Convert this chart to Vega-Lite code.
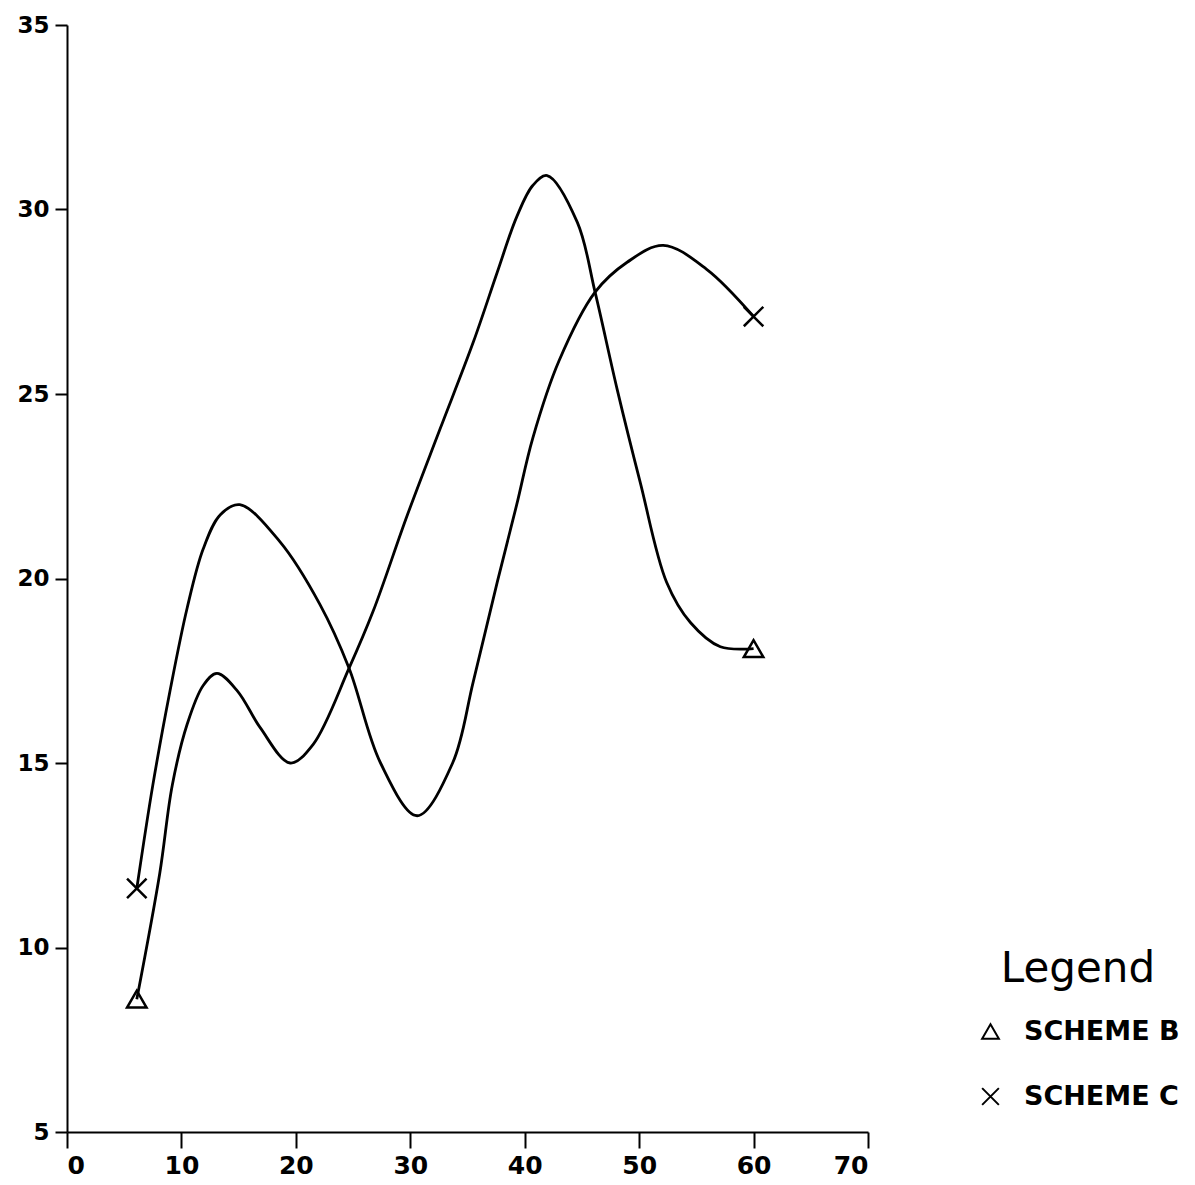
{
  "$schema": "https://vega.github.io/schema/vega-lite/v6.json",
  "width": 801,
  "height": 1107,
  "autosize": {"type": "none"},
  "padding": {"left": 67, "top": 25, "right": 327, "bottom": 53},
  "background": "white",
  "config": {
    "view": {"stroke": null},
    "axis": {
      "domainColor": "black", "domainWidth": 2,
      "tickColor": "black", "tickWidth": 2,
      "labelColor": "black", "labelFont": "DejaVu Sans", "labelFontWeight": "bold",
      "labelFontSize": 22, "grid": false, "title": null
    }
  },
  "datasets": {
    "curves": [
      {"scheme": "SCHEME B", "x": 6.1, "y": 8.6},
      {"scheme": "SCHEME B", "x": 8.1, "y": 12.0},
      {"scheme": "SCHEME B", "x": 9.2, "y": 14.4},
      {"scheme": "SCHEME B", "x": 10.5, "y": 16.05},
      {"scheme": "SCHEME B", "x": 11.9, "y": 17.1},
      {"scheme": "SCHEME B", "x": 13.1, "y": 17.43},
      {"scheme": "SCHEME B", "x": 14.9, "y": 16.95},
      {"scheme": "SCHEME B", "x": 16.9, "y": 15.95},
      {"scheme": "SCHEME B", "x": 19.5, "y": 15.0},
      {"scheme": "SCHEME B", "x": 21.5, "y": 15.5},
      {"scheme": "SCHEME B", "x": 24.65, "y": 17.57},
      {"scheme": "SCHEME B", "x": 26.75, "y": 19.11},
      {"scheme": "SCHEME B", "x": 29.72, "y": 21.7},
      {"scheme": "SCHEME B", "x": 32.6, "y": 24.05},
      {"scheme": "SCHEME B", "x": 35.5, "y": 26.4},
      {"scheme": "SCHEME B", "x": 37.6, "y": 28.3},
      {"scheme": "SCHEME B", "x": 39.3, "y": 29.8},
      {"scheme": "SCHEME B", "x": 40.7, "y": 30.65},
      {"scheme": "SCHEME B", "x": 41.96, "y": 30.92},
      {"scheme": "SCHEME B", "x": 44.6, "y": 29.65},
      {"scheme": "SCHEME B", "x": 46.15, "y": 27.76},
      {"scheme": "SCHEME B", "x": 48.1, "y": 25.1},
      {"scheme": "SCHEME B", "x": 50.1, "y": 22.6},
      {"scheme": "SCHEME B", "x": 52.4, "y": 19.9},
      {"scheme": "SCHEME B", "x": 54.5, "y": 18.8},
      {"scheme": "SCHEME B", "x": 57.1, "y": 18.15},
      {"scheme": "SCHEME B", "x": 60.0, "y": 18.1},
      {"scheme": "SCHEME C", "x": 6.1, "y": 11.6},
      {"scheme": "SCHEME C", "x": 7.5, "y": 14.4},
      {"scheme": "SCHEME C", "x": 9.0, "y": 16.95},
      {"scheme": "SCHEME C", "x": 10.5, "y": 19.2},
      {"scheme": "SCHEME C", "x": 11.9, "y": 20.8},
      {"scheme": "SCHEME C", "x": 13.4, "y": 21.73},
      {"scheme": "SCHEME C", "x": 15.1, "y": 22.0},
      {"scheme": "SCHEME C", "x": 18.6, "y": 21.0},
      {"scheme": "SCHEME C", "x": 22.1, "y": 19.3},
      {"scheme": "SCHEME C", "x": 24.65, "y": 17.57},
      {"scheme": "SCHEME C", "x": 27.4, "y": 15.0},
      {"scheme": "SCHEME C", "x": 30.6, "y": 13.57},
      {"scheme": "SCHEME C", "x": 33.7, "y": 15.0},
      {"scheme": "SCHEME C", "x": 35.5, "y": 17.2},
      {"scheme": "SCHEME C", "x": 37.6, "y": 19.9},
      {"scheme": "SCHEME C", "x": 39.3, "y": 22.0},
      {"scheme": "SCHEME C", "x": 40.7, "y": 23.8},
      {"scheme": "SCHEME C", "x": 43.0, "y": 25.9},
      {"scheme": "SCHEME C", "x": 46.15, "y": 27.76},
      {"scheme": "SCHEME C", "x": 48.95, "y": 28.57},
      {"scheme": "SCHEME C", "x": 52.1, "y": 29.03},
      {"scheme": "SCHEME C", "x": 55.9, "y": 28.38},
      {"scheme": "SCHEME C", "x": 60.0, "y": 27.1}
    ],
    "ends": [
      {"scheme": "SCHEME B", "x": 6.1, "y": 8.6},
      {"scheme": "SCHEME B", "x": 60.0, "y": 18.1},
      {"scheme": "SCHEME C", "x": 6.1, "y": 11.6},
      {"scheme": "SCHEME C", "x": 60.0, "y": 27.1}
    ]
  },
  "layer": [
    {
      "data": {"name": "curves"},
      "mark": {"type": "line", "interpolate": "catmull-rom", "color": "black", "strokeWidth": 2.8},
      "encoding": {
        "x": {"field": "x", "type": "quantitative",
              "scale": {"domain": [0, 70], "nice": false, "zero": false},
              "axis": {"values": [0, 10, 20, 30, 40, 50, 60, 70], "tickSize": 16, "labelPadding": 5, "labelFontSize": 25}},
        "y": {"field": "y", "type": "quantitative",
              "scale": {"domain": [5, 35], "nice": false, "zero": false},
              "axis": {"values": [5, 10, 15, 20, 25, 30, 35], "tickSize": 12, "labelPadding": 6, "labelFontSize": 23}},
        "detail": {"field": "scheme", "type": "nominal"}
      }
    },
    {
      "data": {"name": "ends"},
      "mark": {"type": "point", "filled": false, "color": "black", "strokeWidth": 2.5, "size": 380, "opacity": 1},
      "encoding": {
        "x": {"field": "x", "type": "quantitative"},
        "y": {"field": "y", "type": "quantitative"},
        "shape": {
          "field": "scheme", "type": "nominal",
          "scale": {"domain": ["SCHEME B", "SCHEME C"], "range": ["triangle-up", "M-1,-1L1,1M1,-1L-1,1"]},
          "legend": {
            "title": "Legend", "orient": "none", "legendX": 910, "legendY": 924,
            "titleFont": "DejaVu Sans", "titleFontSize": 42, "titleFontWeight": "normal", "titleColor": "black",
            "titleAnchor": "middle", "titlePadding": 27,
            "labelFont": "DejaVu Sans", "labelFontSize": 27, "labelFontWeight": "bold", "labelColor": "black",
            "labelOffset": 20, "symbolSize": 280, "symbolStrokeWidth": 2, "symbolStrokeColor": "black",
            "symbolFillColor": "white", "rowPadding": 37, "labelLimit": 300
          }
        }
      }
    }
  ]
}
